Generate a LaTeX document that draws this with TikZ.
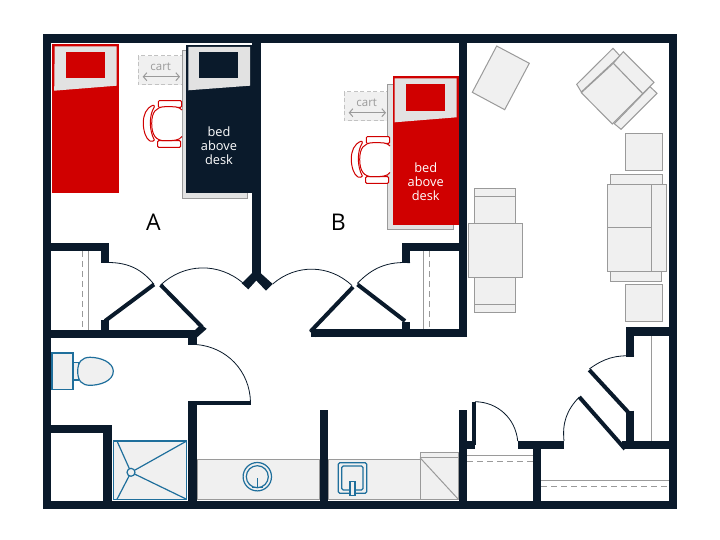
\documentclass[tikz,border=0pt]{standalone}
\usepackage{fontspec}
\setmainfont{Open Sans}
\usetikzlibrary{arrows.meta}
\definecolor{navywall}{HTML}{0A1A2B}
\definecolor{bedred}{HTML}{D00000}
\definecolor{fixblue}{HTML}{1F6F9C}
\definecolor{lightfill}{HTML}{F0F0F0}
\definecolor{pillowgray}{HTML}{E2E2E2}
\definecolor{edgegray}{HTML}{9A9A9A}
\tikzset{
	wall/.style={navywall, line width=8.4pt}, % the thick walls
	panel/.style={navywall, line width=4pt}, % an open door leaf
	swing/.style={navywall, line width=0.8pt}, % the arc a door sweeps
	furn/.style={draw=edgegray, fill=lightfill, line width=1pt},
	rail/.style={edgegray, line width=1pt},
	railback/.style={edgegray, line width=1pt, dash pattern=on 6pt off 4pt},
	fixture/.style={draw=fixblue, fill=lightfill, line width=1.2pt},
	chairpart/.style={draw=bedred, fill=white, line width=1pt},
	bedtext/.style={white, font=\fontsize{12.8}{14}\selectfont, align=center},
	carttext/.style={edgegray, font=\fontsize{11.5}{12}\selectfont},
	roomtext/.style={black, font=\fontsize{23}{24}\selectfont},
}

\begin{document}
\begin{tikzpicture}[x=1pt,y=-1pt]
	\useasboundingbox (0,0) rectangle (720,540);
	\fill[white] (0,0) rectangle (720,540);

	% counters and shower
	\draw[furn] (197.3,459) rectangle (319.7,499.5);
	\draw[furn] (328.3,459) rectangle (420,499.5);
	\draw[furn] (420,452.3) rectangle (458.5,499.5);
	\draw[rail] (420,457.7) -- (458.5,457.7);
	\draw[rail] (420,457.7) -- (458.5,499.5);
	\draw[fixture] (113.3,441) rectangle (186.7,499.3);
	\draw[fixture, fill=none] (117,441) -- (131,472.3) -- (117,499.3);
	\draw[fixture, fill=none] (186.7,441) -- (131,472.3) -- (186.7,499.3);
	\draw[fixture] (131,472.3) circle (4);

	% toilet
	\draw[fixture] (52,353) rectangle (73,389.3);
	\draw[fixture] (73,362.3) rectangle (78.3,380);
	\draw[fixture] (113.3,371.3) .. controls (113.3,362) and (100,357.3) .. (90,357.3)
		.. controls (82,357.3) and (77.7,362) .. (77.7,371.3)
		.. controls (77.7,381) and (82,385.3) .. (90,385.3)
		.. controls (100,385.3) and (113.3,381) .. cycle;

	% sinks
	\draw[fixture, fill=none] (257.3,476.7) circle (14.2);
	\draw[fixture, fill=none] (257.3,476.7) circle (11);
	\draw[fixture, fill=none] (257.3,478) -- (257.3,488) (252,487.5) -- (262.5,487.5);
	\draw[fixture, fill=none, rounded corners=1.5pt] (338.3,462.7) rectangle (366.7,493.3);
	\draw[fixture, fill=none, rounded corners=1.5pt] (341.7,466) rectangle (363,490);
	\draw[fixture] (350,481.7) rectangle (355,495.7);

	% living room furniture
	\draw[furn] (496.7,46) -- (529.3,63.3) -- (504.7,109.7) -- (472.3,92.3) -- cycle;
	\draw[furn] (613,48.3) -- (620,56) -- (581.3,92) -- (576.7,84.3) -- cycle;
	\draw[furn] (657,93.3) -- (621,129.3) -- (614.3,123.7) -- (650,86.7) -- cycle;
	\draw[furn] (623.3,51.7) -- (654,82.3) -- (642.7,93.7) -- (613.3,63.3) -- cycle;
	\draw[furn] (613.3,63.3) -- (642.7,93.7) -- (612.3,124) -- (581.3,92.7) -- cycle;
	\draw[furn] (625.3,134) rectangle (662.3,170.7);
	\draw[furn] (625.3,284.3) rectangle (662.3,321);
	\draw[furn] (610.3,175) rectangle (662.3,184.7);
	\draw[furn] (610,271.3) rectangle (661.3,281);
	\draw[furn] (651.7,184.7) rectangle (666.7,271.3);
	\draw[furn] (607.7,184.7) rectangle (651.7,227.7);
	\draw[furn] (607.7,227.7) rectangle (651.7,271.3);
	\draw[furn] (474.7,189) rectangle (515.7,223.7);
	\draw[rail] (474.7,196.7) -- (515.7,196.7);
	\draw[furn] (474.7,277.7) rectangle (515.7,312.7);
	\draw[rail] (474.7,304.7) -- (515.7,304.7);
	\draw[furn] (468,223.7) rectangle (522,277.7);

	% carts
	\foreach \ox/\oy in {0/0,206/36}{
		\draw[furn, draw=edgegray!60, dash pattern=on 4pt off 2.5pt] (138.3+\ox,55.7+\oy) rectangle (184+\ox,85+\oy);
		\draw[rail, <->, >={Straight Barb[length=3.5pt,width=8pt]}] (142.7+\ox,76.7+\oy) -- (180+\ox,76.7+\oy);
	}
	\node[carttext] (cartA) at (160.7,67) {cart};
	\node[carttext] (cartB) at (366.7,103) {cart};

	% desks
	\draw[furn, fill=pillowgray] (182,51) rectangle (247.7,198.3);
	\draw[furn, fill=pillowgray] (387.7,84.3) rectangle (453.3,230);

	% chairs
	\foreach \ox/\oy in {0/0,208/36}{
		\begin{scope}[shift={(\ox,\oy)}]
			\draw[chairpart, rounded corners=1pt] (158.3,100.7) rectangle (181.5,107.3);
			\draw[chairpart, rounded corners=1pt] (157.6,140.7) rectangle (180.5,147.3);
			\draw[chairpart] (153,105.3) .. controls (146,108) and (143.3,115) .. (143.3,123)
				.. controls (143.3,131) and (146,139) .. (150,141) .. controls (152,142) and (154,141) .. (154.3,140)
				.. controls (149,130) and (149,115) .. (154.3,107) .. controls (154.3,105.5) and (154,105) .. cycle;
			\draw[chairpart] (182,110) .. controls (179,106.5) and (174,106.5) .. (165,106.7)
				.. controls (156,107) and (151.7,112) .. (151.7,123.5)
				.. controls (151.7,135) and (156,141) .. (165,140.7)
				.. controls (174,140.7) and (179,140.5) .. (182,136.5);
		\end{scope}
	}

	% beds
	\draw[bedred, fill=bedred, line width=1pt] (52.7,45) rectangle (118,193);
	\fill[pillowgray] (54.7,46.5) -- (116.7,46.5) -- (116.7,85.7) -- (54.2,90.7) -- cycle;
	\fill[bedred] (66,52) rectangle (105,78.3);
	\draw[draw=navywall, fill=navywall, line width=1pt] (186.7,45.7) rectangle (251.3,193);
	\fill[pillowgray] (188.3,47) -- (250,47) -- (250,85.7) -- (188.3,90.3) -- cycle;
	\fill[navywall] (199.3,52) rectangle (238.3,78.3);
	\draw[bedred, fill=bedred, line width=1pt] (393.3,76.7) rectangle (458.7,225);
	\fill[pillowgray] (394.7,78.3) -- (456.7,78.3) -- (456.7,117.3) -- (394.7,122.3) -- cycle;
	\fill[bedred] (406.3,84) rectangle (445,110.7);
	\node[bedtext] (deskA) at (219,146) {bed\\above\\desk};
	\node[bedtext] (deskB) at (425.7,181.5) {bed\\above\\desk};

	% room letters
	\node[roomtext] (roomA) at (153.3,222) {A};
	\node[roomtext] (roomB) at (338.3,222) {B};

	% closet rails
	\draw[rail] (88.3,251) -- (88.3,330);
	\draw[railback] (82,251) -- (82,330);
	\draw[rail] (423.3,251) -- (423.3,329);
	\draw[railback] (429,251) -- (429,329);
	\draw[rail] (467,455.7) -- (533,455.7);
	\draw[railback] (467,461.7) -- (533,461.7);
	\draw[rail] (541,480) -- (669,480);
	\draw[railback] (541,486) -- (669,486);
	\draw[rail] (651.3,335) -- (651.3,441);

	% walls
	\draw[wall] (47,38.4) rectangle (673,504.7);
	\draw[wall] (256.3,38.4) -- (256.3,276);
	\fill[navywall] (252.1,273) -- (241.7,283.3) -- (248.3,289.3) -- (256.3,280.5) -- (266,290.7) -- (272.7,284) -- (260.5,273) -- cycle;
	\draw[wall] (463,38.4) -- (463,337);
	\draw[wall] (467,247.2) -- (406,247.2) -- (406,262.7);
	\draw[wall] (467,333) -- (311,333);
	\draw[wall] (406,333) -- (406,321.7);
	\draw[wall] (47,247.2) -- (105,247.2) -- (105,262.7);
	\draw[wall] (47,333.8) -- (196,333.8);
	\draw[wall] (105,333) -- (105,320);
	\fill[navywall] (195,330) -- (201,324.5) -- (206.7,328.8) -- (195.7,338.5) -- cycle;
	\fill[navywall] (316,329.5) -- (309,330.5) -- (315.5,337.2) -- cycle;
	\draw[wall] (192.3,333) -- (192.3,344.5);
	\draw[wall] (192.3,402) -- (192.3,504);
	\draw[wall] (47,429.2) -- (107.5,429.2) -- (107.5,504);
	\draw[wall] (324,410) -- (324,504);
	\draw[wall] (463,410) -- (463,504);
	\draw[wall] (463,445) -- (475,445);
	\draw[wall] (517.7,445) -- (564,445);
	\draw[wall] (536.8,445) -- (536.8,504);
	\draw[wall] (622,445) -- (673,445);
	\draw[wall] (629.8,410.7) -- (629.8,445);
	\draw[wall] (629.8,356.7) -- (629.8,331.3) -- (673,331.3);

	% door leaves
	\draw[panel] (353,287) -- (311,331);
	\draw[panel] (357.5,284.5) -- (405,321);
	\draw[panel] (154,284.5) -- (105,321);
	\draw[panel] (160.7,285) -- (202,327);
	\draw[panel] (188.3,403.3) -- (250.7,403.3);
	\draw[panel] (473.5,401.7) -- (473.5,445);
	\draw[panel] (579.3,397) -- (625,449);
	\draw[panel] (589.3,370) -- (628,412);

	% door swings
	\draw[swing] (272.7,284) to[bend left=42] (352,285.5);
	\draw[swing] (243.3,283.3) to[bend right=42] (160.7,285);
	\draw[swing] (410,262.7) to[bend right=25] (357.3,283.5);
	\draw[swing] (109,262.5) to[bend left=25] (154,284.3);
	\draw[swing] (196,344.5) to[bend left=42] (250.5,402);
	\draw[swing] (475,401.7) to[bend left=42] (517.7,441);
	\draw[swing] (564,441) to[bend left=25] (579.3,397);
	\draw[swing] (634,356) to[bend right=20] (589.3,369);
\end{tikzpicture}
\end{document}
